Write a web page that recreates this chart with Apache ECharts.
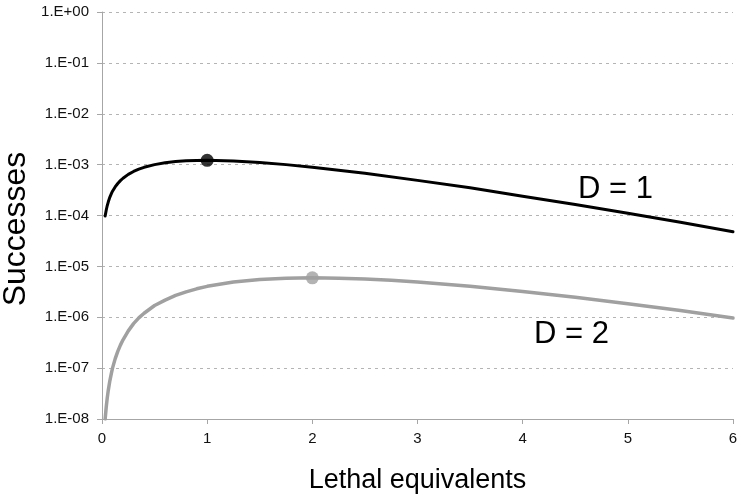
<!DOCTYPE html>
<html>
<head>
<meta charset="utf-8">
<script src="https://cdn.jsdelivr.net/npm/echarts@6/dist/echarts.min.js"></script>
<style>html,body{margin:0;padding:0;background:#fff}#c{width:750px;height:498px}</style>
</head>
<body>
<div id="c"></div>
<script>
// Lethal equivalents (x) and successes (y)
const xD1 = [0.03, 0.04, 0.05, 0.06, 0.075, 0.09, 0.1, 0.125, 0.15, 0.175, 0.2, 0.25, 0.3, 0.35, 0.4, 0.5, 0.6, 0.7, 0.8, 0.9, 1, 1.25, 1.5, 1.75, 2, 2.5, 3, 3.5, 4, 4.5, 5, 5.5, 6];
const yD1 = [9.8e-5, 1.27e-4, 1.57e-4, 1.86e-4, 2.3e-4, 2.71e-4, 3.0e-4, 3.64e-4, 4.26e-4, 4.85e-4, 5.4e-4, 6.43e-4, 7.33e-4, 8.14e-4, 8.85e-4, 1.0e-3, 1.087e-3, 1.147e-3, 1.186e-3, 1.207e-3, 1.214e-3, 1.18e-3, 1.10e-3, 1.0e-3, 8.9e-4, 6.8e-4, 4.9e-4, 3.5e-4, 2.4e-4, 1.65e-4, 1.11e-4, 7.4e-5, 4.8e-5];
const xD2 = [0.03, 0.04, 0.05, 0.06, 0.075, 0.09, 0.1, 0.125, 0.15, 0.175, 0.2, 0.25, 0.3, 0.35, 0.4, 0.5, 0.6, 0.7, 0.8, 0.9, 1, 1.25, 1.5, 1.75, 2, 2.25, 2.5, 2.75, 3, 3.5, 4, 4.5, 5, 5.5, 6];
const yD2 = [1.0e-8, 1.7e-8, 2.6e-8, 3.7e-8, 5.7e-8, 8.1e-8, 1.0e-7, 1.52e-7, 2.13e-7, 2.83e-7, 3.6e-7, 5.4e-7, 7.5e-7, 9.7e-7, 1.2e-6, 1.7e-6, 2.17e-6, 2.68e-6, 3.16e-6, 3.62e-6, 4.05e-6, 4.92e-6, 5.52e-6, 5.85e-6, 5.95e-6, 5.87e-6, 5.64e-6, 5.32e-6, 4.93e-6, 4.07e-6, 3.22e-6, 2.47e-6, 1.85e-6, 1.36e-6, 9.7e-7];
const peakD1 = [1, 1.214e-3];
const peakD2 = [2, 5.95e-6];
const seriesNames = ['D = 1', 'D = 2'];
const xTitle = 'Lethal equivalents';
const yTitle = 'Successes';

const FONT = '"Liberation Sans", Arial, sans-serif';
function pairs(xs, ys) { return xs.map((x, i) => [x, ys[i]]); }
function fmtY(v) {
  const e = Math.round(Math.log10(v));
  const s = Math.abs(e) < 10 ? '0' + Math.abs(e) : '' + Math.abs(e);
  return '1.E' + (e < 0 ? '-' : '+') + s;
}

const chart = echarts.init(document.getElementById('c'), null, { renderer: 'canvas' });
chart.setOption({
  animation: false,
  backgroundColor: '#fff',
  grid: { left: 102, right: 17, top: 12, bottom: 79, containLabel: false, outerBoundsMode: 'none' },
  xAxis: {
    type: 'value', min: 0, max: 6, interval: 1,
    axisLine: { show: true, lineStyle: { color: '#a6a6a6', width: 1 } },
    axisTick: { show: true, length: 5, lineStyle: { color: '#a6a6a6' } },
    axisLabel: { color: '#111', fontSize: 15, fontFamily: FONT, margin: 12 },
    splitLine: { show: false },
    name: xTitle, nameLocation: 'middle', nameGap: 48,
    nameTextStyle: { color: '#000', fontSize: 27, fontFamily: FONT }
  },
  yAxis: {
    type: 'log', logBase: 10, min: 1e-8, max: 1,
    axisLine: { show: true, onZero: false, lineStyle: { color: '#a6a6a6', width: 1 } },
    axisTick: { show: true, length: 5, lineStyle: { color: '#a6a6a6' } },
    axisLabel: { color: '#111', fontSize: 15, fontFamily: FONT, margin: 13, formatter: fmtY },
    splitLine: { show: true, lineStyle: { color: '#b4b4b4', type: [3, 4], width: 1 } }
  },
  series: [
    {
      name: seriesNames[0], type: 'line', data: pairs(xD1, yD1),
      smooth: false, showSymbol: false, clip: true,
      lineStyle: { color: '#000', width: 3, join: 'round', cap: 'round' }, z: 3
    },
    {
      name: seriesNames[1], type: 'line', data: pairs(xD2, yD2),
      smooth: false, showSymbol: false, clip: true,
      lineStyle: { color: '#a0a0a0', width: 3.5, join: 'round', cap: 'round' }, z: 2
    },
    {
      type: 'scatter', data: [peakD1], symbolSize: 13,
      itemStyle: { color: '#000' }, z: 5
    },
    {
      type: 'scatter', data: [peakD2], symbolSize: 13,
      itemStyle: { color: '#a0a0a0' }, z: 5
    }
  ],
  graphic: [
    { type: 'text', x: 16, y: 229, rotation: Math.PI / 2,
      style: { text: yTitle, font: '32px ' + FONT, fill: '#000', align: 'center', verticalAlign: 'middle' } },
    { type: 'text', left: 578, top: 174, style: { text: seriesNames[0], font: '31px ' + FONT, fill: '#000' } },
    { type: 'text', left: 534, top: 319, style: { text: seriesNames[1], font: '31px ' + FONT, fill: '#000' } }
  ]
});
</script>
</body>
</html>
